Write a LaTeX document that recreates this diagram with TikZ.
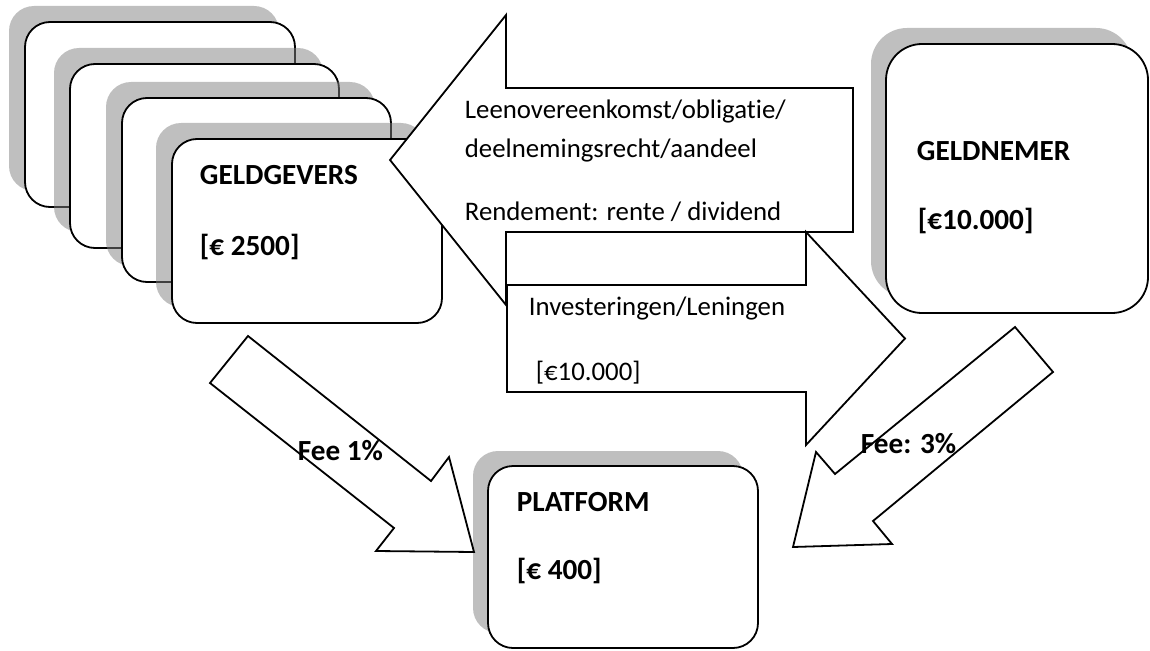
\documentclass[tikz,border=0pt]{standalone}
\usepackage{fontspec}
\setmainfont[Ligatures=CommonOff]{Carlito}
\begin{document}
\begin{tikzpicture}[x=1pt,y=-1pt,line width=1.8pt,line join=miter,
  shadowc/.style={fill=black!50,fill opacity=0.5,draw=none},
  boxc/.style={draw=black,fill=white},
  blockarrow/.style={draw=black,fill=white,line join=miter},
  bigtxt/.style={font=\bfseries\fontsize{29.2}{33}\selectfont,anchor=base west,inner sep=0pt},
  txt/.style={font=\fontsize{26.8}{31}\selectfont,anchor=base west,inner sep=0pt}]
\useasboundingbox (0,0) rectangle (1150,650);
% stacked GELDGEVERS boxes
\fill[shadowc,rounded corners=25pt] (9,6) rectangle (279,191);
\draw[boxc,rounded corners=25pt] (25,22) rectangle (295,207);
\fill[shadowc,rounded corners=25pt] (54,48) rectangle (323,232);
\draw[boxc,rounded corners=25pt] (70,64) rectangle (339,248);
\fill[shadowc,rounded corners=25pt] (106,82) rectangle (375,266);
\draw[boxc,rounded corners=25pt] (122,98) rectangle (391,282);
\fill[shadowc,rounded corners=25pt] (156,123) rectangle (426,307);
\draw[boxc,rounded corners=25pt] (172,139) rectangle (442,323);
% GELDNEMER box
\fill[shadowc,rounded corners=36pt] (871,28) rectangle (1132,297);
\draw[boxc,rounded corners=36pt] (886,44) rectangle (1148,313);
% big arrows
\draw[blockarrow] (853,88) -- (506,88) -- (506,15) -- (390,160) -- (506,305) -- (506,232) -- (853,232) -- cycle;
\draw[blockarrow] (507,285) -- (806,285) -- (806,232) -- (905,338.5) -- (806,445) -- (806,392) -- (507,392) -- cycle;
% PLATFORM box
\fill[shadowc,rounded corners=25pt] (473,451) rectangle (743,633);
\draw[boxc,rounded corners=25pt] (488,466) rectangle (758,648);
% fee arrows
\draw[blockarrow] (248,336) -- (431,481) -- (449,457) -- (474,552) -- (376,551) -- (394,528) -- (210,383) -- cycle;
\draw[blockarrow] (1015,327) -- (1053,372) -- (873,521) -- (892,544) -- (793,547) -- (816,452) -- (835,474) -- cycle;
% texts
\node[bigtxt] (gg1) at (199,184) {GELDGEVERS};
\node[bigtxt] (gg2) at (199,255) {[€ 2500]};
\node[bigtxt] (gn1) at (916,160) {GELDNEMER};
\node[bigtxt] (gn2) at (917,229) {[€10.000]};
\node[bigtxt] (pf1) at (516,511) {PLATFORM};
\node[bigtxt] (pf2) at (516,579) {[€ 400]};
\node[txt] (la1) at (464,119) {Leenovereenkomst/obligatie/};
\node[txt] (la2) at (464,157) {deelnemingsrecht/aandeel};
\node[txt] (la3) at (464,220) {Rendement: rente / dividend};
\node[txt] (ra1) at (528,315) {Investeringen/Leningen};
\node[txt] (ra2) at (535,380) {[€10.000]};
\node[bigtxt] (f1) at (297,460) {Fee 1\%};
\node[bigtxt] (f3) at (860,453) {Fee: 3\%};
\end{tikzpicture}
\end{document}
